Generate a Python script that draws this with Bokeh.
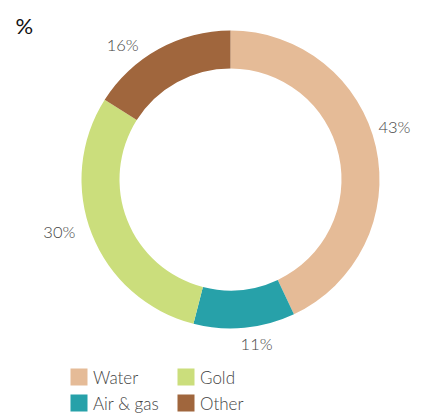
import numpy as np
from bokeh.plotting import figure
from bokeh.models import Range1d, ColumnDataSource
from bokeh.core.properties import value
from bokeh.embed import file_html
from bokeh.resources import INLINE

# ---- data ----
categories = ["Water", "Air & gas", "Gold", "Other"]
shares = [43, 11, 30, 16]
colors = ["#e5bb97", "#27a1a9", "#cbde7c", "#a0663d"]
unit_title = "%"

# ---- layout ----
W, H = 426, 415
cx, cy = 230, 236
r_out, r_in = 149, 111
label_r = 172
label_shift_deg = [5, 3.6, -4.6, 10]   # small angular nudges of the outside labels
label_r_extra = [0, -5, 7, 0]          # small radial nudges of the outside labels
font = value("Lato Light")
text_col = "#444444"

vals = np.array(shares, dtype=float)
frac = vals / vals.sum()
cum_after = np.cumsum(frac)
cum_before = cum_after - frac
start = np.pi / 2 - 2 * np.pi * cum_before
end = np.pi / 2 - 2 * np.pi * cum_after
mid = (start + end) / 2 + np.radians(label_shift_deg)
lr = label_r + np.array(label_r_extra, dtype=float)

p = figure(width=W, height=H, x_range=Range1d(0, W), y_range=Range1d(0, H),
           min_border=0, toolbar_location=None, output_backend="svg",
           x_axis_type=None, y_axis_type=None)
p.grid.visible = False
p.outline_line_color = None
p.background_fill_color = "white"
p.border_fill_color = "white"

src = ColumnDataSource(dict(cat=categories, start=start, end=end, color=colors))
p.annular_wedge(x=cx, y=cy, inner_radius=r_in, outer_radius=r_out,
                start_angle="start", end_angle="end", direction="clock",
                fill_color="color", line_color=None, source=src)

# outside value labels
lab = ColumnDataSource(dict(
    x=cx + lr * np.cos(mid), y=cy + lr * np.sin(mid),
    t=[f"{v}%" for v in shares]))
p.text(x="x", y="y", text="t", source=lab, text_font=font,
       text_font_size="16.5px", text_align="center", text_baseline="middle",
       text_color=text_col)

# title "%"
p.text(x=[15], y=[390], text=[unit_title], text_font=value("Lato"),
       text_font_size="22px", text_align="left", text_baseline="alphabetic",
       text_color="#111111")

# legend (2 rows, column-major)
idx = np.arange(len(categories))
col = idx // 2
row = idx % 2
lx0, ly0, dx, dy, sq = 78.5, 38.5, 107, 26, 17
leg = ColumnDataSource(dict(
    x=lx0 + dx * col, y=ly0 - dy * row, tx=lx0 + 14 + dx * col,
    color=colors, t=categories))
p.rect(x="x", y="y", width=sq, height=sq, fill_color="color",
       line_color=None, source=leg)
p.text(x="tx", y="y", text="t", source=leg, text_font=font,
       text_font_size="17px", text_align="left", text_baseline="middle",
       text_color=text_col)

open("out.html", "w").write(file_html(p, INLINE))
